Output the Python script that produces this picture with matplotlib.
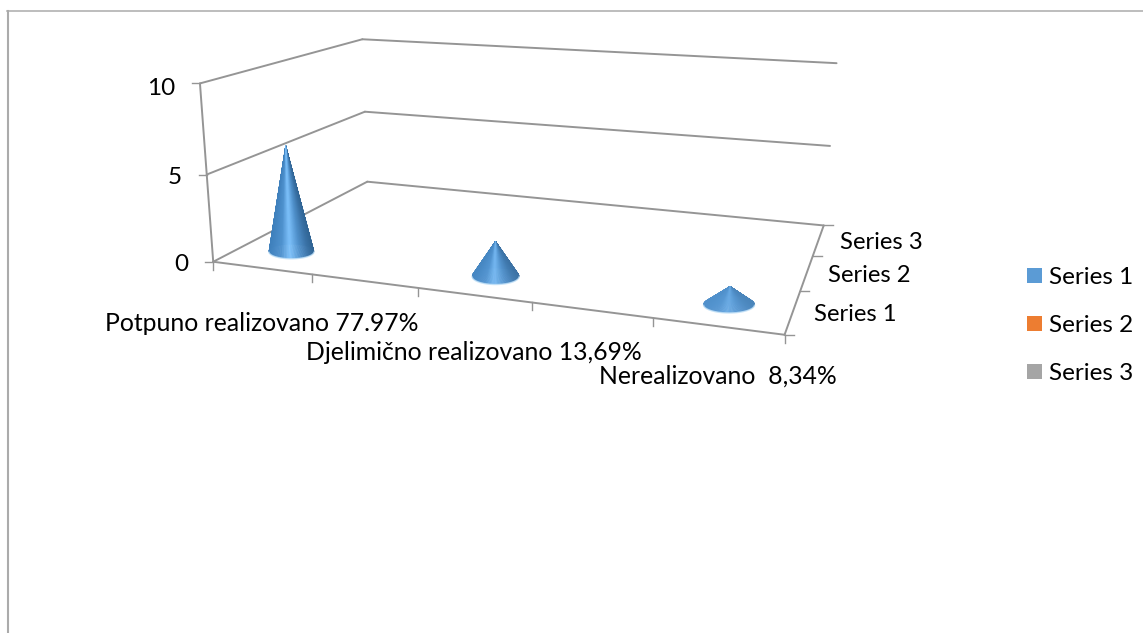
import matplotlib
matplotlib.use('Agg')
import matplotlib.pyplot as plt
import numpy as np
from matplotlib.collections import PolyCollection
from matplotlib.colors import LinearSegmentedColormap, to_rgba
from matplotlib.patches import Patch

plt.rcParams['font.family'] = ['Lato', 'DejaVu Sans']

# five slots on the category axis, the even ones stayed empty in the sheet
categories = ['Potpuno realizovano 77.97%', '', 'Djelimično realizovano 13,69%', '', 'Nerealizovano  8,34%']
series_names = ['Series 1', 'Series 2', 'Series 3']
series_1 = [6.2, 0, 1.95, 0, 0.95]
series_2 = [0, 0, 0, 0, 0]
series_3 = [0, 0, 0, 0, 0]
y_ticks = [0, 5, 10]
legend_colors = ['#5B9BD5', '#ED7D31', '#A5A5A5']

GRID = '#959595'
FS = 17.5

# where the 3d box sits in the picture: (category, series, value) -> pixel,
# camera matrix is fitted from these
world = np.array([
    [0, 0, 0], [0, 0, 5], [0, 0, 10],
    [0, 3, 0], [0, 3, 5], [0, 3, 10],
    [5, 3, 0], [5, 3, 5], [5, 3, 10],
    [1, 0, 0], [2, 0, 0], [3, 0, 0], [4, 0, 0], [5, 0, 0],
    [5, 1, 0], [5, 2, 0],
], dtype=float)
pixels = np.array([
    [213.3, 261.7], [206.7, 175], [200, 83.3],
    [367.3, 181.3], [365, 111.7], [362.3, 39.3],
    [823.3, 225.7], [831, 146], [836, 63],
    [312, 275], [418, 287.7], [532, 302.7], [653, 316.7], [785, 335],
    [800, 291.3], [812.8, 256],
])

A = []
b = []
for (x, y, z), (u, v) in zip(world, pixels):
    A.append([x, y, z, 1, 0, 0, 0, 0, -u * x, -u * y, -u * z])
    A.append([0, 0, 0, 0, x, y, z, 1, -v * x, -v * y, -v * z])
    b += [u, v]
cam = np.linalg.lstsq(np.array(A), np.array(b), rcond=None)[0]
cam = np.append(cam, 1).reshape(3, 4)


def project(x, y, z):
    p = cam @ np.array([x, y, z, 1.0])
    return p[0] / p[2], p[1] / p[2]


fig = plt.figure(figsize=(11.43, 6.33), dpi=100)
ax = fig.add_axes([0, 0, 1, 1])
ax.set_xlim(0, 1143)
ax.set_ylim(633, 0)
ax.axis('off')

# chart border, runs off the picture right and bottom
ax.plot([8, 8], [633, 10.5], color='#ABABAB', lw=1.5)
ax.plot([7, 1143], [10.5, 10.5], color='#ABABAB', lw=1.1)

n_cat = len(categories)
n_ser = len(series_names)


def line3d(p, q, lw=1.4):
    a = project(*p)
    c = project(*q)
    ax.plot([a[0], c[0]], [a[1], c[1]], color=GRID, lw=lw, solid_capstyle='round')


# walls and floor
for t in y_ticks:
    line3d((0, 0, t), (0, n_ser, t))
    line3d((0, n_ser, t), (n_cat, n_ser, t))
line3d((0, 0, 0), (0, 0, max(y_ticks)))
line3d((0, 0, 0), (n_cat, 0, 0))
line3d((n_cat, 0, 0), (n_cat, n_ser, 0))

# value axis
y_label_shift = [2.5, 2.5, 5]
for t, dy in zip(y_ticks, y_label_shift):
    x0, y0 = project(0, 0, t)
    ax.plot([x0 - 8, x0], [y0, y0], color=GRID, lw=1)
    ax.text(x0 - 25, y0 + dy, str(t), ha='right', va='center', fontsize=FS, color='black')

# category axis
for i in range(n_cat + 1):
    x0, y0 = project(i, 0, 0)
    ax.plot([x0, x0], [y0, y0 + 8], color=GRID, lw=1)
cat_y_offset = [56, 0, 57, 0, 50]
for i, name in enumerate(categories):
    if name:
        x0, y0 = project(i + 0.5, 0, 0)
        ax.text(x0, y0 + cat_y_offset[i], name, ha='center', va='center', fontsize=FS + 0.3, color='black')

# series axis
for i in range(n_ser + 1):
    x0, y0 = project(n_cat, i, 0)
    ax.plot([x0, x0 + 9], [y0, y0], color=GRID, lw=1)
for i, name in enumerate(series_names):
    x0, y0 = project(n_cat, i + 0.5, 0)
    ax.text(x0 + 21.5, y0 + 2.5, name, ha='left', va='center', fontsize=FS - 0.3, color='black')

cone_cmap = LinearSegmentedColormap.from_list('cone', [
    (0.0, '#3F80BC'), (0.28, '#4F92CF'), (0.47, '#7CC0FA'),
    (0.68, '#5192CD'), (0.88, '#3A72A6'), (1.0, '#316595'),
])
half_w = [22.5, 0, 23.5, 0, 25.5]
half_h = [7, 0, 8, 0, 8.2]
# flatter cones show less contrast
soften = [0, 0, 0.25, 0, 0.6]
base_rgba = np.array(to_rgba('#5B9BD5'))

# cones, a fan of thin triangles from the tip to the base ellipse
for i, val in enumerate(series_1):
    if val <= 0:
        continue
    cx, cy = project(i + 0.5, 0.5, 0)
    tx, ty = project(i + 0.5, 0.5, val)
    ang = np.linspace(0, 2 * np.pi, 181)
    px = cx + half_w[i] * np.cos(ang)
    py = cy + half_h[i] * np.sin(ang)
    mid = (ang[:-1] + ang[1:]) / 2
    # back of the cone first
    order = np.argsort(np.sin(mid))
    polys = [[(tx, ty), (px[k], py[k]), (px[k + 1], py[k + 1])] for k in order]
    cols = cone_cmap((np.cos(mid[order]) + 1) / 2)
    cols = cols * (1 - soften[i]) + base_rgba * soften[i]
    ax.add_collection(PolyCollection(polys, facecolors=cols, edgecolors=cols, linewidths=0.3, zorder=5))
    front = np.sin(ang) > 0.05
    ax.plot(px[front], py[front] + 0.5, color='#BBDDF6', lw=1, alpha=0.8, zorder=6)

handles = [Patch(facecolor=c, edgecolor='none', label=n) for c, n in zip(legend_colors, series_names)]
leg = ax.legend(handles=handles, loc='upper left', bbox_to_anchor=(1027 / 1143, 1 - 267 / 633), frameon=False,
                fontsize=FS, borderpad=0, borderaxespad=0, handlelength=0.62, handleheight=0.62,
                handletextpad=0.29, labelspacing=1.11, labelcolor='black')

fig.savefig('out.png', dpi=100)
